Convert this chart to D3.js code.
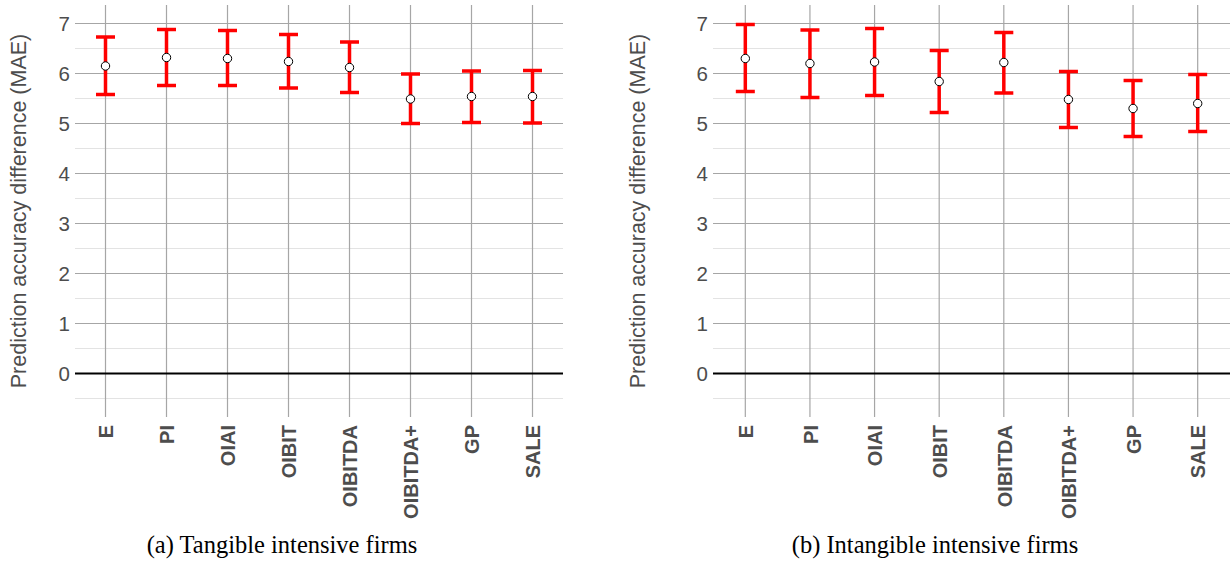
<!DOCTYPE html>
<html>
<head>
<meta charset="utf-8">
<script src="https://cdn.jsdelivr.net/npm/d3@7"></script>
<style>
  body { margin: 0; background: #fff; }
  svg { display: block; }
</style>
</head>
<body>
<div id="chart"></div>
<script>
// Data
var categories = ['E', 'PI', 'OIAI', 'OIBIT', 'OIBITDA', 'OIBITDA+', 'GP', 'SALE']
var yTicks = [0, 1, 2, 3, 4, 5, 6, 7]

var tangibleMean = [6.15, 6.32, 6.30, 6.24, 6.12, 5.49, 5.54, 5.54]
var tangibleLow  = [5.58, 5.76, 5.76, 5.71, 5.62, 5.00, 5.02, 5.01]
var tangibleHigh = [6.73, 6.88, 6.86, 6.78, 6.63, 5.99, 6.05, 6.06]

var intangibleMean = [6.30, 6.20, 6.23, 5.84, 6.22, 5.48, 5.30, 5.40]
var intangibleLow  = [5.64, 5.52, 5.56, 5.22, 5.61, 4.92, 4.74, 4.84]
var intangibleHigh = [6.98, 6.87, 6.90, 6.46, 6.82, 6.04, 5.86, 5.98]

var W = 1232, H = 563

var svg = d3.select("#chart").append("svg")
    .attr("width", W)
    .attr("height", H)

var panels = [
  {x0: 75, x1: 563, mean: tangibleMean, low: tangibleLow, high: tangibleHigh,
   titleX: 18, capX: 282, caption: '(a) Tangible intensive firms'},
  {x0: 713, x1: 1230, mean: intangibleMean, low: intangibleLow, high: intangibleHigh,
   titleX: 637, capX: 935, caption: '(b) Intangible intensive firms'}
]

var y = d3.scaleLinear()
    .domain([-0.87, 7.37])
    .range([417, 5])

panels.forEach(function(p) {
  var x = d3.scalePoint()
      .domain(categories)
      .range([p.x0, p.x1])
      .padding(0.5)

  var g = svg.append("g")

  // minor gridlines
  var minors = d3.range(-0.5, 7.5, 1)
  g.selectAll(".minor").data(minors).enter().append("line")
    .attr("x1", p.x0).attr("x2", p.x1)
    .attr("y1", d => y(d)).attr("y2", d => y(d))
    .attr("stroke", "#e3e3e3").attr("stroke-width", 1.2)

  // major gridlines
  g.selectAll(".major").data(yTicks.filter(d => d !== 0)).enter().append("line")
    .attr("x1", p.x0).attr("x2", p.x1)
    .attr("y1", d => y(d)).attr("y2", d => y(d))
    .attr("stroke", "#a6a6a6").attr("stroke-width", 1.2)

  g.selectAll(".vgrid").data(categories).enter().append("line")
    .attr("x1", d => x(d)).attr("x2", d => x(d))
    .attr("y1", 5).attr("y2", 417)
    .attr("stroke", "#a6a6a6").attr("stroke-width", 1.2)

  // zero line
  g.append("line")
    .attr("x1", p.x0).attr("x2", p.x1)
    .attr("y1", y(0)).attr("y2", y(0))
    .attr("stroke", "#000").attr("stroke-width", 2.2)

  // y axis labels
  var yAxis = d3.axisLeft(y).tickValues(yTicks).tickSize(0).tickPadding(0)
  var ya = g.append("g")
    .attr("transform", "translate(" + (p.x0 - 5) + ",0)")
    .call(yAxis)
  ya.select(".domain").remove()
  ya.selectAll("text")
    .attr("font-family", "Liberation Sans, Arial, sans-serif")
    .attr("font-size", 20.5)
    .attr("fill", "#4d4d4d")

  // x axis labels
  var xAxis = d3.axisBottom(x).tickSize(0).tickPadding(0)
  var xa = g.append("g")
    .attr("transform", "translate(0,425)")
    .call(xAxis)
  xa.select(".domain").remove()
  xa.selectAll("text")
    .attr("transform", "rotate(-90)")
    .attr("x", 0).attr("y", 0)
    .attr("dy", "0.36em")
    .attr("text-anchor", "end")
    .attr("font-family", "Liberation Sans, Arial, sans-serif")
    .attr("font-weight", "bold")
    .attr("font-size", 20)
    .attr("fill", "#4d4d4d")

  // y title
  g.append("text")
    .attr("transform", "translate(" + p.titleX + ",211) rotate(-90)")
    .attr("dy", "0.35em")
    .attr("text-anchor", "middle")
    .attr("font-family", "Liberation Sans, Arial, sans-serif")
    .attr("font-size", 21.5)
    .attr("fill", "#4d4d4d")
    .text("Prediction accuracy difference (MAE)")

  // error bars
  var capW = 9.5
  var bars = g.selectAll(".err").data(categories).enter().append("g")
  bars.append("line")
    .attr("x1", d => x(d)).attr("x2", d => x(d))
    .attr("y1", (d, i) => y(p.low[i])).attr("y2", (d, i) => y(p.high[i]))
    .attr("stroke", "#ff0000").attr("stroke-width", 3.5)
  bars.append("line")
    .attr("x1", d => x(d) - capW).attr("x2", d => x(d) + capW)
    .attr("y1", (d, i) => y(p.low[i])).attr("y2", (d, i) => y(p.low[i]))
    .attr("stroke", "#ff0000").attr("stroke-width", 3.5)
  bars.append("line")
    .attr("x1", d => x(d) - capW).attr("x2", d => x(d) + capW)
    .attr("y1", (d, i) => y(p.high[i])).attr("y2", (d, i) => y(p.high[i]))
    .attr("stroke", "#ff0000").attr("stroke-width", 3.5)

  // points
  g.selectAll(".pt").data(categories).enter().append("circle")
    .attr("cx", d => x(d))
    .attr("cy", (d, i) => y(p.mean[i]))
    .attr("r", 4.2)
    .attr("fill", "#fff")
    .attr("stroke", "#000")
    .attr("stroke-width", 1)

  // caption
  svg.append("text")
    .attr("x", p.capX).attr("y", 553)
    .attr("text-anchor", "middle")
    .attr("font-family", "Liberation Serif, Times New Roman, serif")
    .attr("font-size", 24.5)
    .attr("fill", "#000")
    .text(p.caption)
})
</script>
</body>
</html>
